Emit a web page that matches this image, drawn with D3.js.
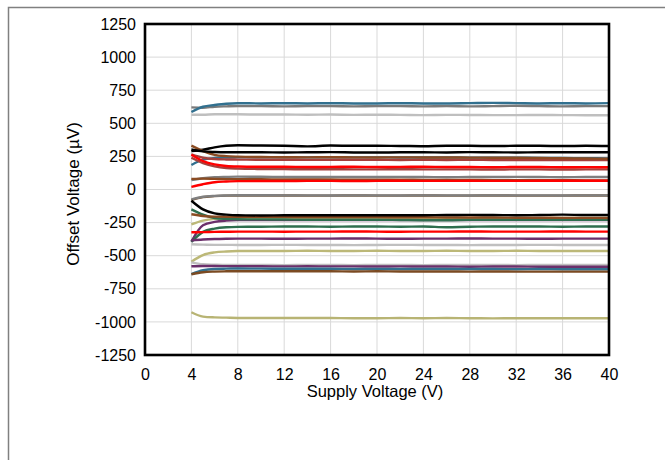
<!DOCTYPE html>
<html>
<head>
<meta charset="utf-8">
<title>Offset Voltage vs Supply Voltage</title>
<script src="https://d3js.org/d3.v7.min.js"></script>
<style>
    body { margin: 0; background: #fff; }
    svg text { font-family: Arial, "Liberation Sans", sans-serif; fill: #000; }
    .grid line { stroke: #d9d9d9; stroke-width: 1; }
    .trace { fill: none; stroke-width: 2.4; stroke-linejoin: round; }
</style>
</head>
<body>
<script>
// supply voltage samples (V)
var supply = [4, 5, 6, 7, 8, 10, 12, 14, 16, 18, 20, 22, 24, 26, 28, 30, 32, 34, 36, 38, 40];

var xTicks = [0, 4, 8, 12, 16, 20, 24, 28, 32, 36, 40];
var yTicks = [-1250, -1000, -750, -500, -250, 0, 250, 500, 750, 1000, 1250];

// offset voltage (uV), one array per unit
var blueA   = [585, 625, 638, 648, 652, 650, 652, 650, 652, 650, 650, 652, 650, 650, 652, 654, 652, 650, 652, 650, 652];
var grayA   = [620, 618, 625, 628, 630, 630, 628, 630, 630, 628, 630, 630, 628, 630, 628, 630, 632, 630, 628, 630, 630];
var ltGrayA = [565, 565, 568, 568, 568, 566, 566, 565, 566, 564, 565, 564, 562, 564, 563, 562, 562, 563, 562, 561, 561];
var blueB   = [185, 225, 238, 242, 244, 244, 243, 243, 244, 243, 243, 242, 242, 242, 241, 241, 240, 239, 238, 236, 235];
var blackA  = [290, 300, 318, 330, 334, 332, 330, 326, 332, 330, 330, 329, 327, 330, 330, 328, 330, 330, 328, 330, 328];
var blackB  = [302, 288, 283, 281, 281, 281, 280, 281, 282, 280, 279, 281, 281, 280, 282, 281, 280, 281, 281, 281, 281];
var brownA  = [331, 290, 262, 252, 248, 245, 244, 243, 244, 243, 242, 243, 242, 242, 241, 240, 240, 238, 236, 234, 232];
var dkRedA  = [265, 240, 230, 227, 226, 225, 225, 224, 224, 225, 224, 223, 224, 223, 224, 223, 222, 223, 223, 222, 222];
var dkRedB  = [240, 200, 175, 162, 158, 155, 154, 153, 153, 152, 152, 153, 152, 152, 152, 151, 152, 152, 151, 152, 152];
var redA    = [262, 215, 190, 178, 174, 172, 172, 170, 171, 172, 170, 171, 172, 170, 170, 168, 170, 170, 168, 169, 168];
var grayB   = [72, 85, 92, 95, 97, 96, 95, 94, 95, 94, 94, 95, 94, 93, 94, 94, 95, 94, 93, 94, 94];
var brownB  = [80, 82, 80, 78, 78, 77, 76, 76, 75, 74, 74, 74, 73, 72, 72, 71, 71, 70, 70, 69, 69];
var redB    = [20, 40, 55, 60, 63, 64, 64, 65, 65, 64, 65, 66, 65, 65, 66, 65, 65, 66, 66, 66, 66];
var brownC  = [-80, -58, -50, -46, -45, -45, -45, -46, -46, -45, -46, -46, -45, -46, -46, -45, -46, -46, -46, -45, -45];
var grayC   = [-74, -55, -48, -45, -43, -43, -44, -44, -45, -44, -44, -45, -44, -44, -45, -44, -44, -44, -45, -44, -44];
var oliveA  = [-263, -235, -222, -218, -217, -216, -216, -215, -216, -215, -215, -216, -215, -215, -216, -215, -215, -216, -215, -215, -215];
var purpleA = [-394, -270, -245, -235, -231, -230, -230, -231, -230, -230, -231, -230, -230, -231, -230, -230, -231, -230, -230, -230, -230];
var greenA  = [-150, -190, -215, -222, -225, -226, -227, -228, -228, -228, -228, -230, -232, -232, -229, -228, -228, -229, -228, -228, -228];
var blackC  = [-85, -150, -180, -190, -195, -196, -195, -194, -195, -194, -194, -195, -194, -193, -192, -193, -194, -193, -190, -193, -193];
var brownD  = [-187, -200, -205, -206, -206, -207, -207, -208, -208, -209, -209, -210, -210, -211, -212, -212, -213, -213, -214, -214, -215];
var greenB  = [-395, -320, -295, -285, -282, -281, -280, -280, -281, -280, -280, -281, -280, -285, -281, -280, -280, -280, -281, -280, -280];
var redC    = [-323, -322, -320, -319, -318, -318, -319, -318, -318, -317, -318, -319, -318, -318, -317, -318, -318, -318, -317, -318, -318];
var purpleB = [-385, -378, -374, -372, -371, -371, -372, -371, -371, -370, -371, -372, -371, -371, -370, -371, -371, -372, -371, -371, -371];
var ltGrayB = [-414, -416, -418, -418, -419, -419, -418, -419, -419, -420, -419, -418, -419, -419, -420, -419, -419, -418, -419, -419, -419];
var oliveB  = [-545, -495, -475, -468, -465, -464, -464, -463, -464, -464, -463, -464, -464, -463, -464, -464, -463, -464, -464, -464, -464];
var ltGrayC = [-550, -565, -568, -570, -570, -570, -571, -570, -570, -571, -570, -570, -571, -570, -570, -570, -571, -570, -570, -570, -570];
var purpleC = [-580, -578, -578, -579, -580, -580, -581, -580, -581, -581, -582, -581, -582, -582, -583, -582, -582, -583, -583, -583, -583];
var blueC   = [-640, -610, -600, -598, -597, -598, -598, -599, -599, -600, -600, -600, -601, -600, -601, -601, -602, -601, -602, -602, -602];
var brownE  = [-640, -625, -620, -618, -617, -617, -618, -618, -618, -619, -618, -619, -619, -619, -620, -619, -620, -620, -620, -620, -620];
var oliveC  = [-927, -960, -966, -968, -970, -970, -971, -970, -971, -972, -972, -971, -972, -971, -972, -973, -972, -972, -972, -972, -972];

// draw order: first drawn sits underneath
var traces = [
    { v: blueB,   c: "#31708f" },
    { v: ltGrayA, c: "#bfbfbf" },
    { v: grayA,   c: "#7a7a7a" },
    { v: blueA,   c: "#31708f" },
    { v: blackA,  c: "#000000" },
    { v: dkRedA,  c: "#a5403c" },
    { v: brownA,  c: "#8a4b22" },
    { v: blackB,  c: "#000000" },
    { v: dkRedB,  c: "#a5403c" },
    { v: redA,    c: "#ff0000" },
    { v: grayB,   c: "#7f7f7f" },
    { v: brownB,  c: "#8a4b22" },
    { v: redB,    c: "#ff0000" },
    { v: brownC,  c: "#7b5a3a" },
    { v: grayC,   c: "#808080" },
    { v: purpleA, c: "#6b2f6b" },
    { v: oliveA,  c: "#bcb878" },
    { v: greenA,  c: "#2e6e4e" },
    { v: brownD,  c: "#8a4b22" },
    { v: blackC,  c: "#000000" },
    { v: greenB,  c: "#2e6e4e" },
    { v: redC,    c: "#ff0000" },
    { v: ltGrayB, c: "#c0c0c0" },
    { v: purpleB, c: "#6b2f6b" },
    { v: oliveB,  c: "#bcb878" },
    { v: ltGrayC, c: "#c0c0c0" },
    { v: purpleC, c: "#6b2f6b" },
    { v: blueC,   c: "#31708f" },
    { v: brownE,  c: "#7b4a22" },
    { v: oliveC,  c: "#b8b474" }
];

var width = 665, height = 460;
var plotL = 145, plotR = 609, plotT = 24, plotB = 355;

var svg = d3.select("body").append("svg")
    .attr("width", width)
    .attr("height", height);

// outer frame, open to the right and bottom
svg.append("rect")
    .attr("x", 8.5).attr("y", 7.5)
    .attr("width", 700).attr("height", 500)
    .attr("fill", "none")
    .attr("stroke", "#808080")
    .attr("stroke-width", 1.5);

var x = d3.scaleLinear().domain([0, 40]).range([plotL, plotR]);
var y = d3.scaleLinear().domain([-1250, 1250]).range([plotB, plotT]);

// gridlines
var grid = svg.append("g").attr("class", "grid");
grid.selectAll(".gx")
    .data(xTicks.slice(1, -1))
    .enter().append("line")
    .attr("x1", d => x(d)).attr("x2", d => x(d))
    .attr("y1", plotT).attr("y2", plotB);
grid.selectAll(".gy")
    .data(yTicks.slice(1, -1))
    .enter().append("line")
    .attr("y1", d => y(d)).attr("y2", d => y(d))
    .attr("x1", plotL).attr("x2", plotR);

// traces
var line = d3.line()
    .x((d, i) => x(supply[i]))
    .y(d => y(d))
    .curve(d3.curveMonotoneX);

svg.append("g").selectAll("path")
    .data(traces)
    .enter().append("path")
    .attr("class", "trace")
    .attr("stroke", d => d.c)
    .attr("d", d => line(d.v));

// plot frame
svg.append("rect")
    .attr("x", plotL).attr("y", plotT)
    .attr("width", plotR - plotL).attr("height", plotB - plotT)
    .attr("fill", "none")
    .attr("stroke", "#000")
    .attr("stroke-width", 2.6);

// axes (plain hyphen for negatives, like the original)
var fmt = d => String(d);

var xAxis = svg.append("g")
    .attr("transform", "translate(0," + plotB + ")")
    .call(d3.axisBottom(x).tickValues(xTicks).tickSize(0).tickPadding(14).tickFormat(fmt));
xAxis.select(".domain").remove();
xAxis.selectAll("text").style("font-size", "16px").style("font-family", "Arial, 'Liberation Sans', sans-serif");

var yAxis = svg.append("g")
    .attr("transform", "translate(" + plotL + ",0)")
    .call(d3.axisLeft(y).tickValues(yTicks).tickSize(0).tickPadding(9).tickFormat(fmt));
yAxis.select(".domain").remove();
yAxis.selectAll("text").style("font-size", "16px").style("font-family", "Arial, 'Liberation Sans', sans-serif");

// axis titles
svg.append("text")
    .attr("x", 375)
    .attr("y", 397)
    .attr("text-anchor", "middle")
    .style("font-size", "16.5px")
    .text("Supply Voltage (V)");

svg.append("text")
    .attr("transform", "translate(79,194) rotate(-90)")
    .attr("text-anchor", "middle")
    .style("font-size", "17px")
    .text("Offset Voltage (µV)");
</script>
</body>
</html>
